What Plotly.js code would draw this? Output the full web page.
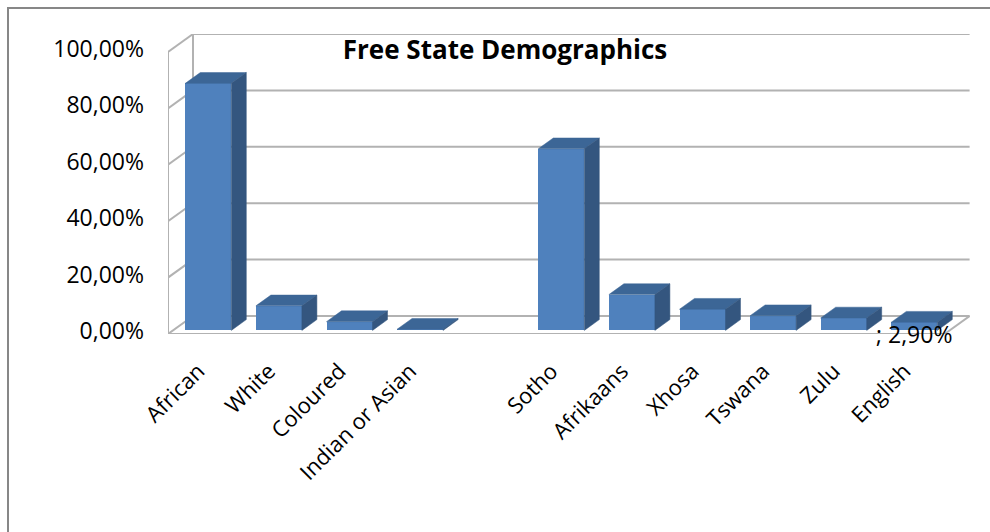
<!DOCTYPE html>
<html>
<head>
<meta charset="utf-8">
<script src="https://cdn.plot.ly/plotly-3.0.1.min.js"></script>
<style>html,body{margin:0;padding:0;background:#fff;}#chart{width:990px;height:532px;}</style>
</head>
<body>
<div id="chart"></div>
<script>
// ---- data ----
const chartTitle = 'Free State Demographics';
const raceCategories = ['African', 'White', 'Coloured', 'Indian or Asian'];
const raceValues = [0.876, 0.087, 0.031, 0.004];
const languageCategories = ['Sotho', 'Afrikaans', 'Xhosa', 'Tswana', 'Zulu', 'English'];
const languageValues = [0.644, 0.127, 0.075, 0.052, 0.044, 0.029];
const yTickValues = [0, 0.2, 0.4, 0.6, 0.8, 1.0];
const labelledCategory = 'English';

// ---- geometry (pixel-based 3D projection) ----
const W = 990, H = 532;
const slotPx = 70.6;          // width of a category slot on the front plane
const frontLeftPx = 168, backRightPx = 970;
const frontBottomPx = 334, backTopPx = 34;
const pxPerUnit = 282;        // pixels per 100 %
const DX = 25 / slotPx;       // depth offset in category units
const DY = 18 / pxPerUnit;    // depth offset in value units
const barW = 46 / slotPx;
const bx = 0.2 * DX, by = 0.2 * DY;     // bar front plane
const ddx = 0.6 * DX, ddy = 0.6 * DY;   // bar depth

const cats = [], vals = [], pos = [];
raceCategories.forEach((c, i) => { cats.push(c); vals.push(raceValues[i]); pos.push(i); });
languageCategories.forEach((c, i) => { cats.push(c); vals.push(languageValues[i]); pos.push(raceCategories.length + 1 + i); });
const nSlots = raceCategories.length + 1 + languageCategories.length;
const xs = pos.map(p => p + bx);

const frontColor = '#4f81bd', topColor = '#3c6696', sideColor = '#34567f';

const traces = [{
  type: 'bar', x: xs, y: vals, base: by, width: barW,
  marker: {color: frontColor, line: {width: 0}}, hoverinfo: 'skip', showlegend: false
}];
xs.forEach((x, i) => {
  const v = vals[i];
  const x0 = x - barW / 2, x1 = x + barW / 2, yt = by + v;
  traces.push({
    type: 'scatter', mode: 'lines', fill: 'toself', fillcolor: topColor,
    x: [x0, x1, x1 + ddx, x0 + ddx, x0], y: [yt, yt, yt + ddy, yt + ddy, yt],
    line: {width: 0.5, color: topColor}, hoverinfo: 'skip', showlegend: false
  });
  traces.push({
    type: 'scatter', mode: 'lines', fill: 'toself', fillcolor: sideColor,
    x: [x1, x1 + ddx, x1 + ddx, x1, x1], y: [by, by + ddy, yt + ddy, yt, by],
    line: {width: 0.5, color: sideColor}, hoverinfo: 'skip', showlegend: false
  });
});

// ---- frame (walls / gridlines) ----
const gridColor = '#b2b2b2';
const fl = -0.5, fr = nSlots - 0.5, bl = fl + DX, br = fr + DX;
const shapes = [];
const ln = (x0, y0, x1, y1) => shapes.push({type: 'line', xref: 'x', yref: 'y', x0, y0, x1, y1, layer: 'below', line: {color: gridColor, width: 2}});
yTickValues.forEach(t => {
  ln(bl, t + DY, br, t + DY);
  ln(fl, t, bl, t + DY);
});
ln(fl, 0, fl, 1);
ln(bl, DY, bl, 1 + DY);
ln(fl, 0, fr, 0);
ln(fr, 0, br, DY);
shapes.push({type: 'rect', xref: 'paper', yref: 'paper', x0: 8 / W, y0: -0.05, x1: 1.05, y1: 1 - 8 / H,
  line: {color: '#878787', width: 2}, layer: 'below'});

const li = cats.indexOf(labelledCategory);
const annotations = [{
  xref: 'x', yref: 'y', x: xs[li], y: 0, xanchor: 'center', yanchor: 'middle', showarrow: false,
  text: '; ' + (vals[li] * 100).toFixed(2).replace('.', ',') + '%',
  font: {family: 'Open Sans', size: 23, color: '#000'}
}];

const layout = {
  width: W, height: H, autosize: false,
  margin: {l: 0, r: 0, t: 0, b: 0, pad: 0},
  paper_bgcolor: '#fff', plot_bgcolor: 'rgba(0,0,0,0)',
  separators: ',.',
  showlegend: false,
  title: {text: '<b>' + chartTitle + '</b>', x: 505 / W, y: 1 - 50 / H, xanchor: 'center', yanchor: 'middle', xref: 'paper', yref: 'paper',
    font: {family: 'Open Sans', size: 26, color: '#000'}},
  xaxis: {
    domain: [frontLeftPx / W, backRightPx / W],
    range: [-0.5, -0.5 + (backRightPx - frontLeftPx) / slotPx],
    tickvals: pos, ticktext: cats, tickangle: -45, ticks: '',
    showgrid: false, zeroline: false, showline: false,
    tickfont: {family: 'Open Sans', size: 22, color: '#000'},
    ticklabelstandoff: 19, ticklabelshift: -5
  },
  yaxis: {
    domain: [1 - frontBottomPx / H, 1 - backTopPx / H],
    range: [0, (frontBottomPx - backTopPx) / pxPerUnit],
    tickvals: yTickValues, tickformat: '.2%', ticks: '',
    showgrid: false, zeroline: false, showline: false,
    tickfont: {family: 'Open Sans', size: 23, color: '#000'},
    ticklabelstandoff: 23, ticklabelshift: -3
  },
  shapes: shapes,
  annotations: annotations,
  bargap: 0
};

Plotly.newPlot('chart', traces, layout, {staticPlot: true, displayModeBar: false});
</script>
</body>
</html>
